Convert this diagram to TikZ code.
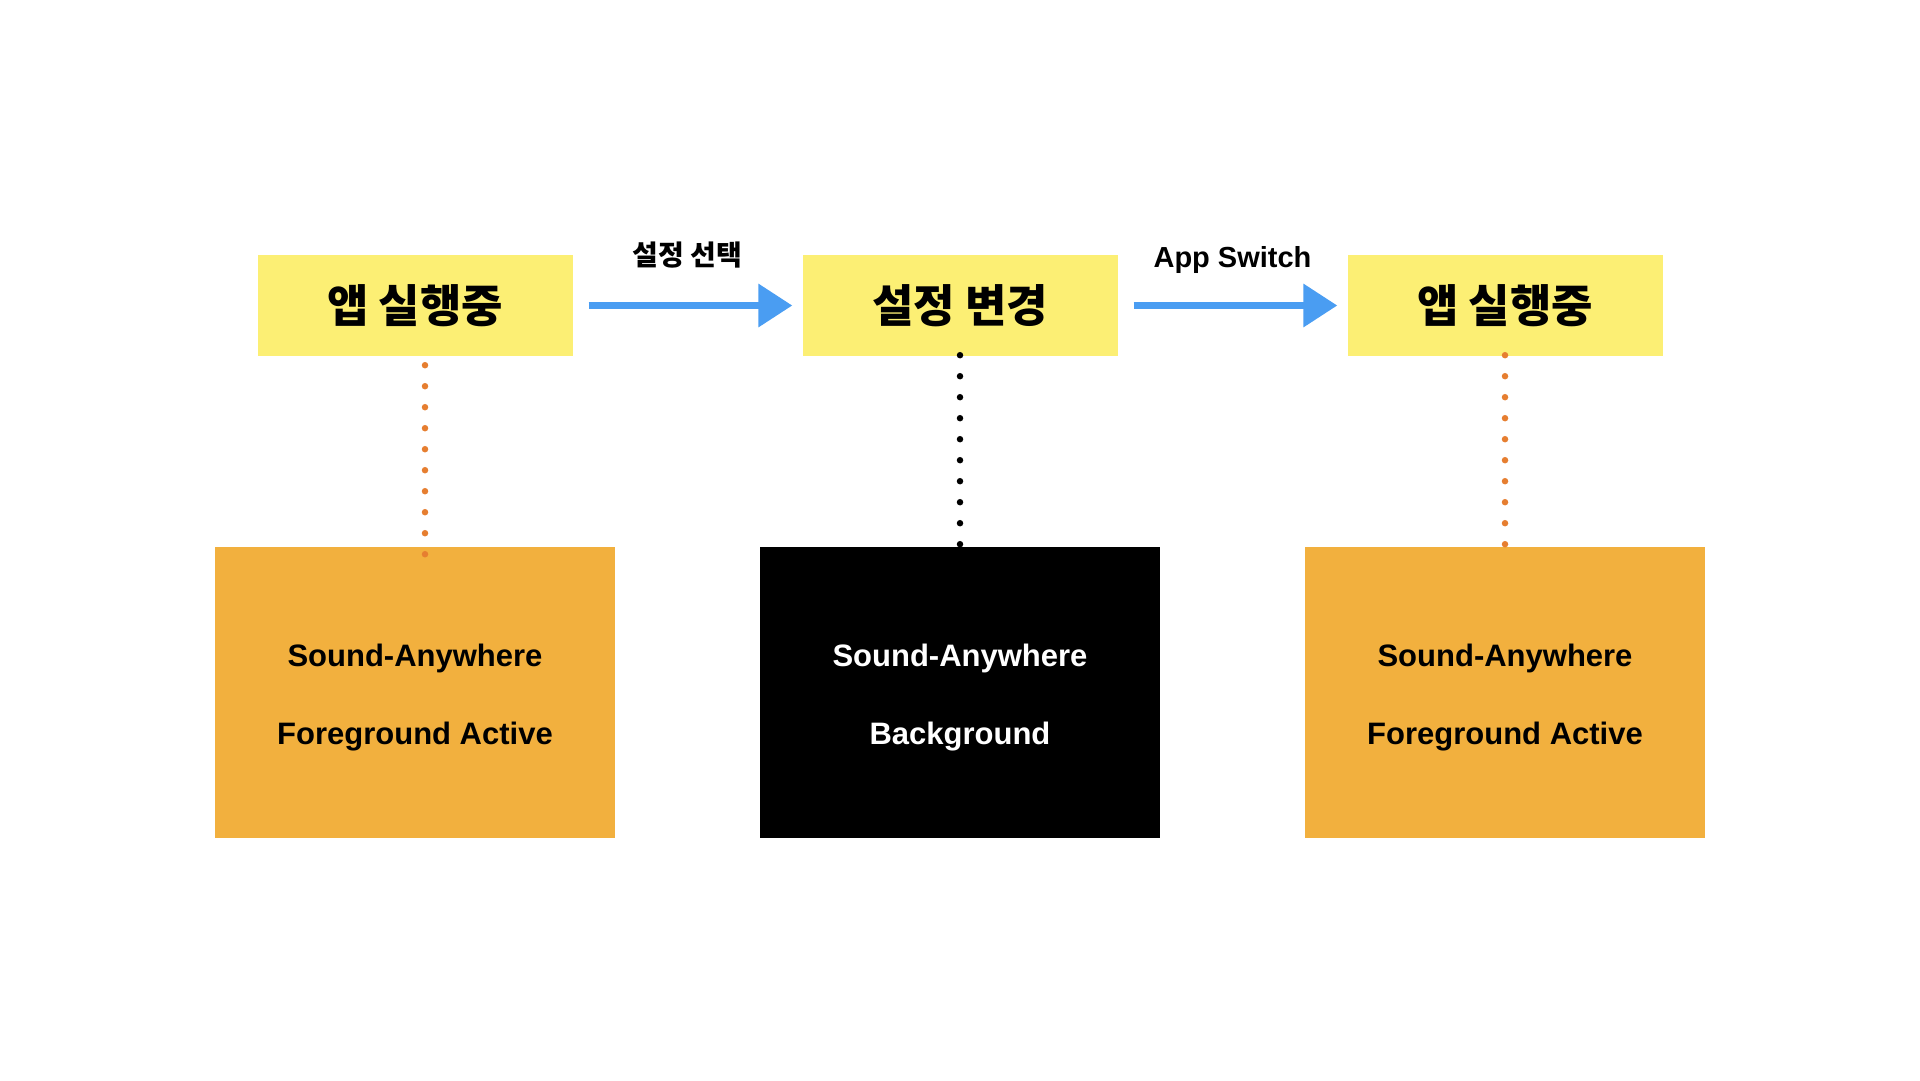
\documentclass[tikz,border=0pt]{standalone}
\usepackage{fontspec}
\setmainfont{Liberation Sans}
\newfontfamily\kofont{Noto Sans CJK KR}
\usetikzlibrary{arrows.meta}
\definecolor{noteyellow}{HTML}{FCEF74}
\definecolor{modeorange}{HTML}{F2B03E}
\definecolor{dotorange}{HTML}{E67E30}
\definecolor{arrowblue}{HTML}{4A9DF2}
\newcommand{\lowline}[1]{\raisebox{-5pt}[\height][\depth]{#1}}

\begin{document}
\begin{tikzpicture}[x=1pt,y=-1pt,
  state/.style={fill=noteyellow,minimum width=315pt,minimum height=101pt,inner sep=0pt,font=\kofont\bfseries\fontsize{45pt}{52pt}\selectfont},
  mode/.style={minimum width=400pt,minimum height=291pt,inner sep=0pt,align=center,font=\bfseries\fontsize{31pt}{78pt}\selectfont},
  go/.style={draw=arrowblue,line width=7pt,-{Triangle[length=34pt,width=42pt]},shorten <=16pt,shorten >=10pt},
  dots/.style={line width=6.5pt,line cap=round,dash pattern=on 0pt off 21pt}]
\useasboundingbox (0,0) rectangle (1920,1080);
\node[state] (run1) at (415,305.5) {앱 실행중};
\node[state] (set) at (960,305.5) {설정 변경};
\node[state] (run2) at (1505,305.5) {앱 실행중};
\node[mode,fill=modeorange] (fg1) at (415,692.5) {\lowline{Sound-Anywhere}\\\lowline{Foreground Active}};
\node[mode,fill=black,text=white] (bg) at (960,692.5) {\lowline{Sound-Anywhere}\\\lowline{Background}};
\node[mode,fill=modeorange] (fg2) at (1505,692.5) {\lowline{Sound-Anywhere}\\\lowline{Foreground Active}};
\draw[go] (run1) -- (set) node[midway,yshift=50pt,font=\kofont\bfseries\fontsize{28pt}{32pt}\selectfont] (lsel) {설정 선택};
\draw[go] (set) -- (run2) node[midway,yshift=46pt,font=\bfseries\fontsize{29pt}{34pt}\selectfont] (lsw) {App Switch};
\draw[dots,dotorange] ([xshift=10pt,yshift=-9pt]run1.south) -- ([xshift=10pt,yshift=-7.5pt]fg1.north);
\draw[dots,black] ([yshift=1pt]set.south) -- ([yshift=2.5pt]bg.north);
\draw[dots,dotorange] ([yshift=1pt]run2.south) -- ([yshift=2.5pt]fg2.north);
\end{tikzpicture}
\end{document}
